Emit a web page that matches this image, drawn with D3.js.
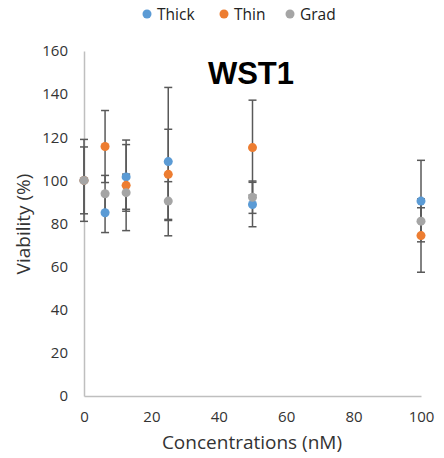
<!DOCTYPE html>
<html>
<head>
<meta charset="utf-8">
<script src="https://cdn.jsdelivr.net/npm/d3@7"></script>
<style>
  body { margin: 0; background: #fff; }
  svg text { font-family: "Open Sans", "DejaVu Sans", sans-serif; }
</style>
</head>
<body>
<div class="chart"></div>
<script>
// concentrations (nM)
var conc = [0, 6.25, 12.5, 25, 50, 100];

var thickVal = [100, 85.0, 101.6, 108.7, 88.8, 90.4];
var thickErr = [15.5, 9.2, 15.0, 34.4, 10.3, 18.9];

var thinVal = [100, 115.7, 97.7, 102.8, 115.2, 74.4];
var thinErr = [19, 16.7, 21.0, 20.9, 22.0, 17.0];

var gradVal = [100, 93.8, 94.3, 90.4, 92.2, 81.1];
var gradErr = [0, 8.5, 8.6, 9.0, 7.5, 6.2];

var yTicks = [0, 20, 40, 60, 80, 100, 120, 140, 160];
var xTicks = [0, 20, 40, 60, 80, 100];

var seriesNames = ["Thick", "Thin", "Grad"];
var colors = ["#5B9BD5", "#ED7D31", "#A5A5A5"];

var series = [
  {name: seriesNames[0], color: colors[0], vals: thickVal, errs: thickErr},
  {name: seriesNames[1], color: colors[1], vals: thinVal, errs: thinErr},
  {name: seriesNames[2], color: colors[2], vals: gradVal, errs: gradErr}
];

var w = 444, h = 458;
var svg = d3.select("div.chart").append("svg")
  .attr("width", w).attr("height", h);

var x = d3.scaleLinear().domain([0, 100]).range([84, 421]);
var y = d3.scaleLinear().domain([0, 160]).range([396, 51]);

// axes
var yAxis = d3.axisLeft(y).tickValues(yTicks).tickSize(0).tickPadding(16);
var xAxis = d3.axisBottom(x).tickValues(xTicks).tickSize(0).tickPadding(15);

var gy = svg.append("g").attr("transform", "translate(" + x(0) + ",0)").call(yAxis);
var gx = svg.append("g").attr("transform", "translate(0," + y(0) + ")").call(xAxis);

[gx, gy].forEach(function(g) {
  g.select(".domain").attr("stroke", "#BFBFBF").attr("stroke-width", 1.5);
  g.selectAll("text").attr("fill", "#333").style("font-size", "15px");
});

// error bars first, then markers on top
var cap = 4;
series.forEach(function(s) {
  var pts = conc.map(function(c, i) { return {c: c, v: s.vals[i], e: s.errs[i]}; })
    .filter(function(d) { return d.e > 0; });
  var eb = svg.append("g").attr("stroke", "#595959").attr("stroke-width", 1.5);
  eb.selectAll("line.v").data(pts).enter().append("line")
    .attr("x1", function(d) { return x(d.c); })
    .attr("x2", function(d) { return x(d.c); })
    .attr("y1", function(d) { return y(d.v + d.e); })
    .attr("y2", function(d) { return y(d.v - d.e); });
  eb.selectAll("line.t").data(pts).enter().append("line")
    .attr("x1", function(d) { return x(d.c) - cap; })
    .attr("x2", function(d) { return x(d.c) + cap; })
    .attr("y1", function(d) { return y(d.v + d.e); })
    .attr("y2", function(d) { return y(d.v + d.e); });
  eb.selectAll("line.b").data(pts).enter().append("line")
    .attr("x1", function(d) { return x(d.c) - cap; })
    .attr("x2", function(d) { return x(d.c) + cap; })
    .attr("y1", function(d) { return y(d.v - d.e); })
    .attr("y2", function(d) { return y(d.v - d.e); });
});

series.forEach(function(s) {
  svg.append("g").selectAll("circle")
    .data(conc.map(function(c, i) { return {c: c, v: s.vals[i]}; }))
    .enter().append("circle")
    .attr("cx", function(d) { return x(d.c); })
    .attr("cy", function(d) { return y(d.v); })
    .attr("r", 4.5)
    .attr("fill", s.color);
});

// title
svg.append("text")
  .attr("x", 251).attr("y", 84)
  .attr("text-anchor", "middle")
  .style("font-family", "'Liberation Sans', Arial, sans-serif")
  .style("font-weight", "bold")
  .style("font-size", "31px")
  .attr("fill", "#000")
  .text("WST1");

// axis titles
svg.append("text")
  .attr("x", 252).attr("y", 449)
  .attr("text-anchor", "middle")
  .style("font-size", "19px")
  .attr("fill", "#333")
  .text("Concentrations (nM)");

svg.append("text")
  .attr("transform", "translate(30,224) rotate(-90)")
  .attr("text-anchor", "middle")
  .style("font-size", "19px")
  .attr("fill", "#333")
  .text("Viability (%)");

// legend
var legX = [147, 224, 290];
var leg = svg.append("g");
series.forEach(function(s, i) {
  leg.append("circle").attr("cx", legX[i]).attr("cy", 14).attr("r", 4.5).attr("fill", s.color);
  leg.append("text").attr("x", legX[i] + 10).attr("y", 19.5)
    .style("font-size", "15.5px").attr("fill", "#222").text(s.name);
});
</script>
</body>
</html>
